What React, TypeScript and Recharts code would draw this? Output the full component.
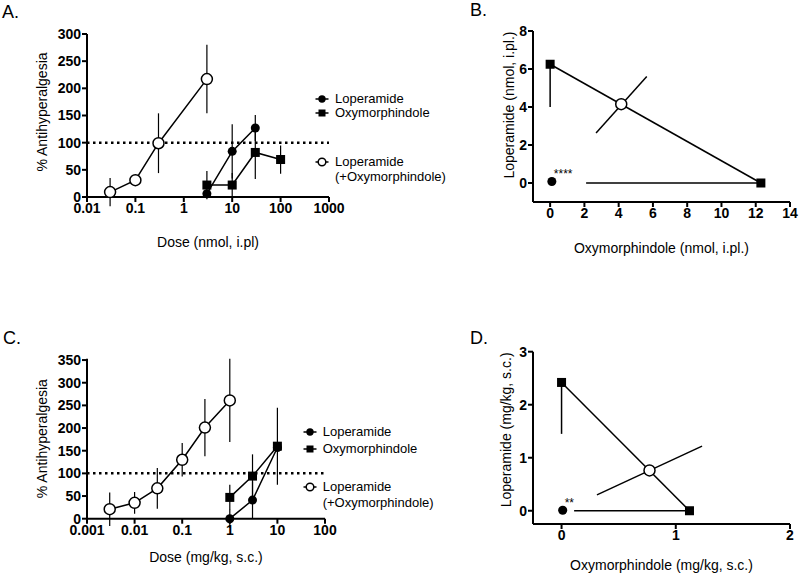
import React from 'react';
import { ScatterChart, Scatter, XAxis, YAxis, ErrorBar, ReferenceLine, Label } from 'recharts';

// A. intraplantar dose-response (nmol, i.pl.)
const doseA_lop = [3, 10, 30];
const effA_lop = [6, 84, 127];
const semA_lop = [0, 50, 24];
const doseA_oxy = [3, 10, 30, 100];
const effA_oxy = [22, 22, 82, 69];
const semA_oxy = [26, 22, 49, 26];
const doseA_mix = [0.03, 0.1, 0.3, 3];
const effA_mix = [9, 31, 99, 217];
const semA_mix = [26, 5, 55, 63];
const ticksA_x = [0.01, 0.1, 1, 10, 100, 1000];
const ticksA_y = [0, 50, 100, 150, 200, 250, 300];

// C. subcutaneous dose-response (mg/kg, s.c.)
const doseC_lop = [1, 3, 10];
const effC_lop = [0, 41, 157];
const semC_lop = [20, 41, 0];
const doseC_oxy = [1, 3, 10];
const effC_oxy = [47, 94, 160];
const semC_oxy = [28, 48, 85];
const doseC_mix = [0.003, 0.01, 0.03, 0.1, 0.3, 1];
const effC_mix = [21, 35, 67, 130, 201, 261];
const semC_mix = [37, 24, 45, 37, 63, 92];
const ticksC_x = [0.001, 0.01, 0.1, 1, 10, 100];
const ticksC_y = [0, 50, 100, 150, 200, 250, 300, 350];

// B. isobologram i.pl. (nmol)
const isoB_oxy = [0, 12.3];
const isoB_lop = [6.25, 0];
const isoB_lopErr = [2.25, 0];
const isoB_oxyErr = [0, 10.2];
const mixB_oxy = [4.15];
const mixB_lop = [4.15];
const ciB_oxy = [2.68, 5.64];
const ciB_lop = [2.63, 5.6];
const expB = { x: 0.1, y: 0.08, sig: '****' };
const ticksB_x = [0, 2, 4, 6, 8, 10, 12, 14];
const ticksB_y = [0, 2, 4, 6, 8];

// D. isobologram s.c. (mg/kg)
const isoD_oxy = [0, 1.12];
const isoD_lop = [2.42, 0];
const isoD_lopErr = [0.97, 0];
const isoD_oxyErr = [0, 1.01];
const mixD_oxy = [0.77];
const mixD_lop = [0.76];
const ciD_oxy = [0.31, 1.23];
const ciD_lop = [0.3, 1.22];
const expD = { x: 0.01, y: 0.01, sig: '**' };
const ticksD_x = [0, 1, 2];
const ticksD_y = [0, 1, 2, 3];

const legendLabels = ['Loperamide', 'Oxymorphindole', 'Loperamide', '(+Oxymorphindole)'];

const pts = (xs: number[], ys: number[], es?: number[]) =>
  xs.map((x, i) => ({ x, y: ys[i], e: es ? es[i] : 0 }));

const isoPts = (xs: number[], ys: number[], yLow: number[], xLow: number[]) =>
  xs.map((x, i) => ({ x, y: ys[i], yLow: yLow[i], xLow: xLow[i] }));

const axisStroke = { stroke: '#000', strokeWidth: 2 };
const tickFont = { fontSize: 14, fontWeight: 700, fill: '#000' };
const lineStyle = { stroke: '#000', strokeWidth: 1.5 };

// error bars stop at zero like in the original
const semKey = (d: any) => [Math.min(d.e, d.y), d.e];

const FilledDot = (p: any) => <circle cx={p.cx} cy={p.cy} r={4.5} fill="#000" />;
const OpenDot = (p: any) => <circle cx={p.cx} cy={p.cy} r={5.5} fill="#fff" stroke="#000" strokeWidth={1.5} />;
const Square = (p: any) => <rect x={p.cx - 4.5} y={p.cy - 4.5} width={9} height={9} fill="#000" />;
const Nothing = () => <g />;
const SigDot = (p: any) => (
  <g>
    <circle cx={p.cx} cy={p.cy} r={4.5} fill="#000" />
    <text x={p.cx + 2} y={p.cy - 3} fontSize={12} fill="#000">{p.payload.sig}</text>
  </g>
);

function Panel({ letter, left, top }: { letter: string; left: number; top: number }) {
  return (
    <div style={{ position: 'absolute', left, top, fontSize: 18, lineHeight: '18px' }}>{letter}</div>
  );
}

function LegendMark({ kind }: { kind: string }) {
  return (
    <svg width={16} height={16} style={{ display: 'block' }}>
      <line x1={1.5} y1={8} x2={14.5} y2={8} stroke="#000" strokeWidth={1.5} />
      {kind === 'dot' && <circle cx={8} cy={8} r={3.7} fill="#000" />}
      {kind === 'sq' && <rect x={4.5} y={4.5} width={7} height={7} fill="#000" />}
      {kind === 'open' && <circle cx={8} cy={8} r={3.8} fill="#fff" stroke="#000" strokeWidth={1.5} />}
    </svg>
  );
}

function DoseLegend({ markX, textX, rows }: { markX: number; textX: number; rows: number[] }) {
  const kinds = ['dot', 'sq', 'open', ''];
  return (
    <>
      {rows.map((y, i) => (
        <React.Fragment key={i}>
          {kinds[i] && (
            <div style={{ position: 'absolute', left: markX - 8, top: y - 8 }}>
              <LegendMark kind={kinds[i]} />
            </div>
          )}
          <div style={{ position: 'absolute', left: textX, top: y - 8, fontSize: 13, lineHeight: '16px', whiteSpace: 'nowrap' }}>
            {legendLabels[i]}
          </div>
        </React.Fragment>
      ))}
    </>
  );
}

function DoseChart(props: any) {
  const { w, h, margin, xDomain, xTicks, yDomain, yTicks, xLabel, xDy, yDy, lop, oxy, mix } = props;
  return (
    <ScatterChart width={w} height={h} margin={margin}>
      <XAxis type="number" dataKey="x" scale="log" domain={xDomain} ticks={xTicks} allowDataOverflow
        interval={0} height={40} axisLine={axisStroke} tickLine={axisStroke} tickSize={5} tickMargin={1}
        tick={tickFont} tickFormatter={(v: number) => String(v)}>
        <Label value={xLabel} position="center" dy={xDy} fontSize={14} fill="#000" />
      </XAxis>
      <YAxis type="number" dataKey="y" domain={yDomain} ticks={yTicks} interval={0} width={87}
        axisLine={axisStroke} tickLine={axisStroke} tickSize={5} tickMargin={1} tick={tickFont}>
        <Label value="% Antihyperalgesia" angle={-90} position="center" dx={-1.5} dy={yDy} fontSize={14} fill="#000" />
      </YAxis>
      <ReferenceLine y={100} stroke="#000" strokeWidth={2.5} strokeDasharray="2.5 3.5" />
      <Scatter data={oxy} fill="#000" line={lineStyle} shape={Square} isAnimationActive={false}>
        <ErrorBar dataKey={semKey} direction="y" width={0} stroke="#000" strokeWidth={1.2} />
      </Scatter>
      <Scatter data={lop} fill="#000" line={lineStyle} shape={FilledDot} isAnimationActive={false}>
        <ErrorBar dataKey={semKey} direction="y" width={0} stroke="#000" strokeWidth={1.2} />
      </Scatter>
      <Scatter data={mix} fill="#000" line={lineStyle} shape={OpenDot} isAnimationActive={false}>
        <ErrorBar dataKey={semKey} direction="y" width={0} stroke="#000" strokeWidth={1.2} />
      </Scatter>
    </ScatterChart>
  );
}

function IsoChart(props: any) {
  const { w, h, margin, xDomain, xTicks, yDomain, yTicks, xLabel, yLabel, xDy, yDx, yDy, iso, ci, mix, exp } = props;
  return (
    <ScatterChart width={w} height={h} margin={margin}>
      <XAxis type="number" dataKey="x" domain={xDomain} ticks={xTicks} allowDataOverflow interval={0}
        height={40} axisLine={axisStroke} tickLine={axisStroke} tickSize={5} tickMargin={1} tick={tickFont}>
        <Label value={xLabel} position="center" dy={xDy} fontSize={14} fill="#000" />
      </XAxis>
      <YAxis type="number" dataKey="y" domain={yDomain} ticks={yTicks} allowDataOverflow interval={0}
        width={63} axisLine={axisStroke} tickLine={axisStroke} tickSize={5} tickMargin={1} tick={tickFont}>
        <Label value={yLabel} angle={-90} position="center" dx={yDx} dy={yDy} fontSize={14} fill="#000" />
      </YAxis>
      <Scatter data={ci} fill="#000" line={lineStyle} shape={Nothing} isAnimationActive={false} />
      <Scatter data={iso} fill="#000" line={lineStyle} shape={Square} isAnimationActive={false}>
        <ErrorBar dataKey={(d: any) => [d.yLow, 0]} direction="y" width={0} stroke="#000" strokeWidth={1.5} />
        <ErrorBar dataKey={(d: any) => [d.xLow, 0]} direction="x" width={0} stroke="#000" strokeWidth={1.5} />
      </Scatter>
      <Scatter data={mix} fill="#000" shape={OpenDot} isAnimationActive={false} />
      <Scatter data={[exp]} fill="#000" shape={SigDot} isAnimationActive={false} />
    </ScatterChart>
  );
}

export default function App() {
  return (
    <div style={{ position: 'absolute', left: 0, top: 0, width: 800, height: 574, background: '#fff',
      fontFamily: '"Liberation Sans", Arial, sans-serif', color: '#000' }}>
      <style>{'.recharts-cartesian-axis-tick-value { font-weight: 700; font-size: 14px; }'}</style>
      <Panel letter="A." left={2} top={3} />
      <Panel letter="B." left={470} top={1} />
      <Panel letter="C." left={3} top={329} />
      <Panel letter="D." left={470} top={329} />

      <div style={{ position: 'absolute', left: 0, top: 0 }}>
        <DoseChart w={360} h={260} margin={{ top: 34, right: 31, bottom: 23, left: 0 }}
          xDomain={[0.01, 1000]} xTicks={ticksA_x} yDomain={[0, 300]} yTicks={ticksA_y}
          xLabel="Dose (nmol, i.pl)" xDy={25} yDy={-3.5}
          lop={pts(doseA_lop, effA_lop, semA_lop)} oxy={pts(doseA_oxy, effA_oxy, semA_oxy)}
          mix={pts(doseA_mix, effA_mix, semA_mix)} />
      </div>
      <DoseLegend markX={321.7} textX={335} rows={[99.3, 113.3, 161.7, 177.3]} />

      <div style={{ position: 'absolute', left: 0, top: 300 }}>
        <DoseChart w={360} h={270} margin={{ top: 58.7, right: 35, bottom: 11.3, left: 0 }}
          xDomain={[0.001, 100]} xTicks={ticksC_x} yDomain={[0, 350]} yTicks={ticksC_y}
          xLabel="Dose (mg/kg, s.c.)" xDy={18} yDy={0}
          lop={pts(doseC_lop, effC_lop, semC_lop)} oxy={pts(doseC_oxy, effC_oxy, semC_oxy)}
          mix={pts(doseC_mix, effC_mix, semC_mix)} />
      </div>
      <DoseLegend markX={310} textX={322.7} rows={[432.3, 449.3, 486.7, 503]} />

      <div style={{ position: 'absolute', left: 470, top: 0 }}>
        <IsoChart w={330} h={270} margin={{ top: 31, right: 10, bottom: 28, left: 0 }}
          xDomain={[-1, 14]} xTicks={ticksB_x} yDomain={[-1, 8]} yTicks={ticksB_y}
          xLabel="Oxymorphindole (nmol, i.pl.)" yLabel="Loperamide (nmol, i.pl.)" xDy={26} yDx={7.5} yDy={-11.5}
          iso={isoPts(isoB_oxy, isoB_lop, isoB_lopErr, isoB_oxyErr)} ci={pts(ciB_oxy, ciB_lop)}
          mix={pts(mixB_oxy, mixB_lop)} exp={expB} />
      </div>

      <div style={{ position: 'absolute', left: 470, top: 300 }}>
        <IsoChart w={330} h={274} margin={{ top: 51.7, right: 10, bottom: 10, left: 0 }}
          xDomain={[-0.25, 2]} xTicks={ticksD_x} yDomain={[-0.25, 3]} yTicks={ticksD_y}
          xLabel="Oxymorphindole (mg/kg, s.c.)" yLabel="Loperamide (mg/kg, s.c.)" xDy={21} yDx={4.5} yDy={-8}
          iso={isoPts(isoD_oxy, isoD_lop, isoD_lopErr, isoD_oxyErr)} ci={pts(ciD_oxy, ciD_lop)}
          mix={pts(mixD_oxy, mixD_lop)} exp={expD} />
      </div>
    </div>
  );
}
